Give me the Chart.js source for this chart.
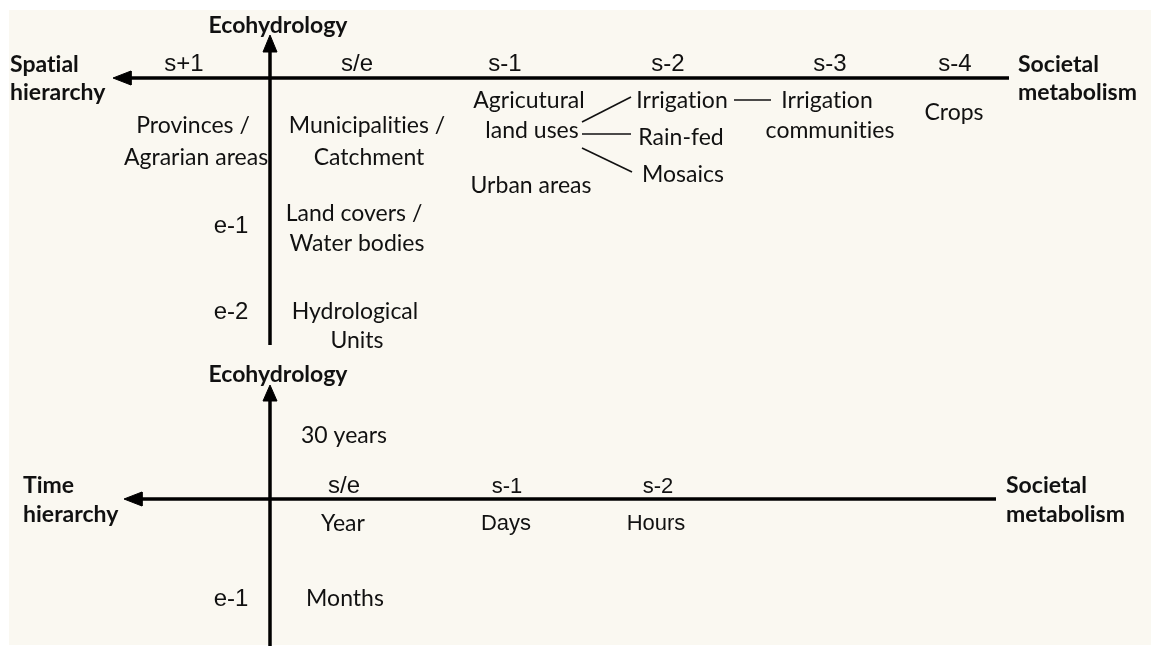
<!DOCTYPE html>
<html><head><meta charset="utf-8">
<script src="https://cdn.jsdelivr.net/npm/chart.js@4/dist/chart.umd.min.js"></script>
<style>
html,body{margin:0;padding:0;background:#fff;overflow:hidden;}
#bg{position:absolute;left:9px;top:10px;width:1142px;height:635px;background:#faf8f1;}
#wrap{position:absolute;left:0;top:0;width:1151px;height:646px;}
</style></head><body>
<div id="bg"></div>
<div id="wrap"><canvas id="c" width="1151" height="646"></canvas></div>
<script>
// ---- Diagram content (diagram units: x 0..1151, y 0..646 top-down) ----
// Axis names (bold)
const axisTitles = ['Ecohydrology','Spatial','hierarchy','Societal','metabolism',
                    'Ecohydrology','Time','hierarchy','Societal','metabolism'];
const axisTitleX = [278, 10, 10, 1018, 1018, 278, 23, 23, 1006, 1006];
const axisTitleY = [33, 72, 100, 72, 100, 382, 493, 522, 493, 522];
const axisTitleAlign = ['center','left','left','left','left','center','left','left','left','left'];

// Hierarchy level labels (spatial diagram)
const spatialLevels = ['s+1','s/e','s-1','s-2','s-3','s-4','e-1','e-2'];
const spatialLevelX = [184, 357, 505, 668, 830, 955, 231, 231];
const spatialLevelY = [71, 71, 71, 71, 71, 71, 233, 319];

// Spatial units
const spatialUnits = ['Provinces /','Agrarian areas','Municipalities /','Catchment',
  'Agricutural','land uses','Urban areas','Irrigation','Rain-fed','Mosaics',
  'Irrigation','communities','Crops','Land covers /','Water bodies','Hydrological','Units'];
const spatialUnitX = [193,196,367,369, 529,532,531, 682,681,683, 827,830, 954, 354,357,355,357];
const spatialUnitY = [133,165,133,165, 108,138,193, 108,145,182, 108,138, 120, 221,251,319,348];

// Time diagram levels and units
const timeLevels = ['s/e','e-1'];
const timeLevelX = [344, 231];
const timeLevelY = [493, 606];
const timeLevelsNarrow = ['s-1','s-2','Days','Hours'];
const timeLevelNarrowX = [507, 658, 506, 656];
const timeLevelNarrowY = [493, 493, 530, 530];
const timeUnits = ['30 years','Year','Months'];
const timeUnitX = [344, 343, 345];
const timeUnitY = [443, 531, 606];

// Axes (segments) and arrow heads
const axisSegX = [[130,1009],[270,270],[141,996],[270,270]];
const axisSegY = [[78,78],[345,51],[499,499],[646,400]];
const arrowX = [[113,131,131],[270,263,277],[124,142,142],[270,263,277]];
const arrowY = [[78,71,85],[35,52,52],[499,492,506],[385,401,401]];

// Connectors between units
const linkX = [[582,631],[582,631],[582,632],[734,771]];
const linkY = [[122,97],[134,134],[148,172],[100,100]];

// ---- Build datasets ----
const datasets = [];
axisSegX.forEach((xs,i)=>{
  datasets.push({type:'scatter',showLine:true,data:xs.map((x,j)=>({x,y:axisSegY[i][j]})),
    borderColor:'#000',borderWidth:3.5,pointRadius:0,borderCapStyle:'butt',fill:false});
});
arrowX.forEach((xs,i)=>{
  const pts = xs.map((x,j)=>({x,y:arrowY[i][j]})); pts.push(pts[0]);
  datasets.push({type:'scatter',showLine:true,data:pts,borderColor:'#000',borderWidth:1,
    backgroundColor:'#000',pointRadius:0,fill:'shape'});
});
linkX.forEach((xs,i)=>{
  datasets.push({type:'scatter',showLine:true,data:xs.map((x,j)=>({x,y:linkY[i][j]})),
    borderColor:'#111',borderWidth:1.6,pointRadius:0,fill:false});
});

const FONT_CAL = 'Lato, "Open Sans", sans-serif';
const FONT_ARIAL = '"Liberation Sans", Arial, sans-serif';
const FONT_NARROW = '"Liberation Sans Narrow", "Liberation Sans", sans-serif';

const textPlugin = {
  id:'texts',
  afterDatasetsDraw(chart){
    const {ctx, scales:{x:sx, y:sy}} = chart;
    ctx.save();
    ctx.fillStyle = '#111';
    ctx.textBaseline = 'alphabetic';
    const draw = (arr, xs, ys, font, aligns, ls) => {
      ctx.font = font;
      if ('letterSpacing' in ctx) ctx.letterSpacing = ls || '0px';
      arr.forEach((t,i)=>{
        ctx.textAlign = aligns ? aligns[i] : 'center';
        ctx.fillText(t, sx.getPixelForValue(xs[i]), sy.getPixelForValue(ys[i]));
      });
    };
    draw(axisTitles, axisTitleX, axisTitleY, 'bold 23px ' + FONT_CAL, axisTitleAlign, '0.01px');
    draw(spatialLevels, spatialLevelX, spatialLevelY, '24px ' + FONT_ARIAL);
    draw(spatialUnits, spatialUnitX, spatialUnitY, '23px ' + FONT_CAL, null, '0.01px');
    draw(timeLevels, timeLevelX, timeLevelY, '24px ' + FONT_ARIAL);
    draw(timeLevelsNarrow, timeLevelNarrowX, timeLevelNarrowY, '22px ' + FONT_NARROW);
    draw(timeUnits, timeUnitX, timeUnitY, '23px ' + FONT_CAL, null, '0.01px');
    ctx.restore();
  }
};

new Chart(document.getElementById('c'), {
  type:'scatter',
  data:{datasets},
  options:{
    responsive:false, animation:false, devicePixelRatio:1,
    layout:{padding:0},
    plugins:{legend:{display:false},tooltip:{enabled:false},title:{display:false}},
    scales:{
      x:{type:'linear',min:0,max:1151,display:false},
      y:{type:'linear',min:0,max:646,reverse:true,display:false}
    }
  },
  plugins:[textPlugin]
});
</script>
</body></html>
